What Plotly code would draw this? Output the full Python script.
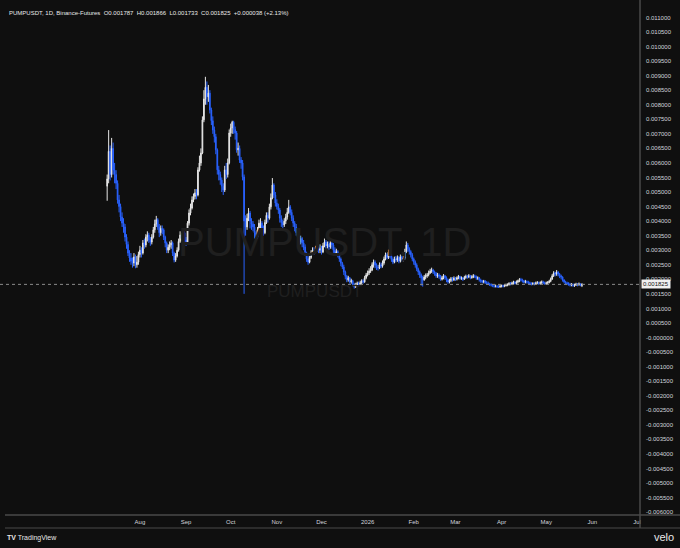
import plotly.graph_objects as go
import pandas as pd

# ---------------- data (prices in 1e-5 USDT, daily candles from 2025-07-10) ----------------
start_date = "2025-07-10"
first_open_e5 = 520

close_e5 = [
    # Jul 10-31
    545, 640, 560, 650, 575, 560, 530, 473, 450, 414, 393, 380, 345, 320, 290, 273, 262, 256, 277, 250, 259, 285,
    # Aug
    300, 290, 325, 318, 345, 352, 335, 328, 345, 370, 390, 405, 380, 360, 375, 370, 345, 325, 300, 310, 318, 325, 290, 266, 280, 300, 330, 352, 340, 360, 335,
    # Sep
    328, 393, 428, 445, 473, 485, 497, 490, 576, 600, 634, 748, 820, 860, 827, 840, 782, 745, 713, 690, 645, 576, 560, 541, 520, 507, 576, 560, 600, 703,
    # Oct
    720, 740, 715, 703, 645, 650, 610, 600, 552, 400, 380, 410, 428, 400, 390, 380, 360, 345, 370, 393, 393, 375, 360, 395, 420, 410, 449, 480, 524, 490, 462,
    # Nov
    450, 438, 410, 395, 387, 400, 414, 430, 449, 430, 410, 393, 380, 360, 345, 328, 340, 325, 311, 290, 270, 259, 275, 290, 300, 295, 300, 310, 300, 305,
    # Dec
    294, 315, 328, 315, 320, 311, 325, 318, 300, 290, 295, 285, 270, 255, 242, 225, 210, 198, 205, 191, 195, 182, 174, 180, 187, 183, 188, 195, 191, 205, 215,
    # Jan 2026
    222, 228, 232, 250, 259, 248, 240, 239, 250, 245, 256, 270, 284, 275, 294, 280, 268, 259, 270, 266, 275, 262, 277, 268, 273, 295, 318, 305, 295, 284, 270,
    # Feb
    260, 249, 235, 225, 215, 205, 198, 208, 212, 215, 222, 228, 232, 226, 220, 212, 215, 210, 200, 205, 212, 205, 198, 191, 196, 202, 198, 204,
    # Mar
    200, 205, 210, 203, 205, 200, 206, 210, 208, 212, 206, 208, 212, 210, 204, 205, 198, 194, 191, 194, 189, 187, 184, 182, 180, 178, 176, 177, 175, 174, 176,
    # Apr
    178, 176, 179, 180, 182, 186, 184, 187, 190, 186, 191, 195, 199, 198, 194, 190, 192, 191, 188, 185, 184, 186, 183, 187, 189, 186, 188, 191, 188, 186,
    # May 1-25
    187, 189, 193, 201, 212, 222, 218, 225, 218, 212, 208, 198, 191, 188, 185, 184, 180, 182, 179, 180, 183, 181, 184, 178.7, 182.5,
]

high_e5 = [
    560, 713, 660, 686, 670, 600, 575, 540, 490, 460, 430, 410, 390, 355, 330, 300, 290, 275, 290, 285, 280, 295,
    315, 310, 335, 340, 355, 365, 360, 345, 355, 380, 405, 418, 410, 390, 385, 385, 375, 350, 330, 320, 330, 335, 330, 295, 290, 310, 340, 365, 360, 370, 365,
    345, 400, 440, 460, 485, 495, 510, 510, 585, 625, 650, 760, 850, 896, 880, 868, 850, 790, 760, 725, 700, 650, 590, 570, 550, 530, 590, 600, 615, 715,
    735, 745, 745, 725, 710, 670, 660, 620, 610, 560, 420, 425, 445, 435, 410, 400, 390, 365, 380, 405, 410, 400, 385, 405, 430, 430, 460, 495, 548, 530, 500,
    475, 460, 445, 420, 405, 410, 425, 445, 473, 455, 440, 420, 400, 390, 365, 350, 350, 345, 335, 320, 295, 280, 285, 300, 310, 310, 315, 320, 315, 320,
    315, 325, 340, 335, 330, 330, 332, 335, 325, 310, 305, 300, 290, 275, 260, 250, 230, 215, 212, 208, 202, 198, 188, 188, 192, 192, 195, 200, 200, 212, 222,
    230, 238, 245, 258, 268, 265, 255, 250, 258, 258, 265, 278, 292, 290, 302, 298, 285, 275, 278, 280, 282, 280, 285, 282, 280, 305, 330, 325, 310, 300, 290,
    275, 265, 255, 240, 230, 220, 212, 215, 220, 222, 230, 236, 240, 236, 230, 225, 222, 220, 215, 212, 218, 215, 210, 202, 202, 208, 208, 210,
    208, 210, 215, 212, 210, 208, 212, 216, 215, 218, 215, 214, 218, 216, 213, 210, 208, 202, 198, 198, 197, 194, 192, 188, 186, 184, 182, 182, 180, 180, 181,
    182, 182, 184, 185, 186, 190, 190, 192, 195, 194, 196, 199, 204, 205, 202, 198, 198, 196, 195, 192, 190, 190, 190, 192, 194, 192, 193, 196, 195, 192,
    192, 194, 198, 206, 218, 228, 226, 232, 228, 222, 216, 210, 200, 195, 192, 190, 188, 187, 186, 185, 188, 187, 189, 186, 186.6,
]

low_e5 = [
    470, 530, 540, 550, 560, 530, 510, 460, 430, 400, 380, 360, 330, 305, 280, 260, 250, 240, 245, 238, 240, 250,
    275, 275, 285, 305, 310, 330, 325, 315, 320, 340, 360, 380, 370, 345, 350, 355, 335, 310, 290, 290, 300, 305, 280, 258, 260, 275, 295, 325, 330, 335, 325,
    315, 325, 385, 420, 440, 465, 475, 475, 485, 570, 590, 630, 740, 800, 800, 810, 770, 730, 700, 670, 630, 560, 540, 525, 500, 490, 500, 545, 550, 595,
    690, 700, 700, 680, 635, 625, 600, 580, 540, 150, 350, 370, 400, 375, 370, 365, 340, 335, 340, 365, 375, 365, 350, 355, 390, 395, 405, 440, 475, 480, 450,
    440, 425, 395, 380, 370, 380, 390, 405, 425, 420, 400, 380, 365, 350, 335, 318, 320, 310, 300, 280, 260, 250, 255, 270, 285, 285, 290, 295, 290, 290,
    285, 290, 310, 305, 305, 300, 305, 305, 290, 280, 280, 275, 260, 245, 235, 215, 200, 190, 192, 185, 185, 176, 168, 170, 175, 176, 180, 183, 185, 188, 200,
    210, 215, 222, 228, 240, 238, 232, 230, 235, 238, 240, 250, 265, 268, 270, 272, 260, 252, 255, 258, 260, 255, 258, 262, 262, 268, 290, 295, 285, 275, 262,
    250, 240, 228, 215, 205, 178, 175, 195, 200, 205, 210, 218, 222, 218, 212, 205, 205, 202, 195, 196, 200, 198, 190, 185, 186, 190, 192, 194,
    194, 196, 200, 198, 198, 194, 198, 202, 202, 204, 200, 202, 204, 204, 198, 198, 192, 188, 186, 186, 184, 182, 180, 177, 175, 173, 171, 172, 170, 170, 171,
    172, 172, 173, 175, 176, 178, 179, 180, 182, 182, 183, 186, 190, 192, 189, 186, 186, 185, 183, 180, 179, 180, 179, 181, 183, 181, 182, 184, 183, 181,
    181, 183, 186, 190, 198, 208, 210, 212, 210, 204, 200, 192, 186, 183, 180, 178, 175, 176, 174, 174, 177, 176, 178, 176, 173.3,
]

last_price = 0.001825
header_text = ("PUMPUSDT, 1D, Binance-Futures  O0.001787  H0.001866  L0.001733  "
               "C0.001825  +0.000038 (+2.13%)")

month_ticks = ["2025-08-01", "2025-09-01", "2025-10-01", "2025-11-01", "2025-12-01", "2026-01-01",
               "2026-02-01", "2026-03-01", "2026-04-01", "2026-05-01", "2026-06-01", "2026-07-01"]
month_labels = ["Aug", "Sep", "Oct", "Nov", "Dec", "2026", "Feb", "Mar", "Apr", "May", "Jun", "Jul"]

y_tick_labels = [
    "0.011000", "0.010500", "0.010000", "0.009500", "0.009000", "0.008500", "0.008000", "0.007500",
    "0.007000", "0.006500", "0.006000", "0.005500", "0.005000", "0.004500", "0.004000", "0.003500",
    "0.003000", "0.002500", "0.002000", "0.001500", "0.001000", "0.000500", "-0.000000", "-0.000500",
    "-0.001000", "-0.001500", "-0.002000", "-0.002500", "-0.003000", "-0.003500", "-0.004000",
    "-0.004500", "-0.005000", "-0.005500", "-0.006000",
]

assert len(close_e5) == len(high_e5) == len(low_e5)

# ---------------- build ----------------
unit = 1e-5
close = [v * unit for v in close_e5]
high = [v * unit for v in high_e5]
low = [v * unit for v in low_e5]
open_ = [first_open_e5 * unit] + close[:-1]
dates = pd.date_range(start_date, periods=len(close), freq="D")

BG = "#0f0f0f"
UP = "#e6e6e6"
DOWN = "#2962ff"
TXT = "#d1d4dc"
FONT = "Liberation Sans, Arial, sans-serif"

fig = go.Figure(go.Candlestick(
    x=dates, open=open_, high=high, low=low, close=close,
    increasing=dict(line=dict(color=UP, width=1), fillcolor=UP),
    decreasing=dict(line=dict(color=DOWN, width=1), fillcolor=DOWN),
    whiskerwidth=0, showlegend=False, hoverinfo="skip",
))

W, H = 680, 548
ml, mr, mt, mb = 0, 40, 0, 31
pw, ph = W - ml - mr, H - mt - mb

def px(xp):
    return (xp - ml) / pw

def py(yp):
    return 1 - (yp - mt) / ph

fig.update_layout(
    width=W, height=H,
    margin=dict(l=ml, r=mr, t=mt, b=mb),
    paper_bgcolor=BG, plot_bgcolor=BG,
    font=dict(family=FONT, color=TXT, size=6),
    xaxis=dict(
        range=["2025-04-29", "2026-07-03"], rangeslider=dict(visible=False),
        showgrid=False, zeroline=False, showline=False, ticks="",
        tickvals=month_ticks, ticktext=month_labels,
        tickfont=dict(size=6, color=TXT), ticklabelstandoff=0,
    ),
    yaxis=dict(
        side="right", range=[-0.00617, 0.0116],
        showgrid=False, zeroline=False, showline=False, ticks="",
        tickvals=[float(t) for t in y_tick_labels], ticktext=y_tick_labels,
        tickfont=dict(size=6, color=TXT), ticklabelstandoff=5,
    ),
    showlegend=False,
)

LINE = "#4a4a4a"
shapes = [
    # last price dotted line
    dict(type="line", xref="paper", yref="y", x0=0, x1=1, y0=last_price, y1=last_price,
         line=dict(color="#8a8a8a", width=1, dash="dot")),
    # pane separators
    dict(type="line", xref="paper", yref="paper", x0=1, x1=1, y0=py(528), y1=1,
         line=dict(color=LINE, width=1.5)),
    dict(type="line", xref="paper", yref="paper", x0=px(5), x1=px(680), y0=py(515), y1=py(515),
         line=dict(color=LINE, width=1.5)),
    dict(type="line", xref="paper", yref="paper", x0=px(5), x1=px(680), y0=py(528), y1=py(528),
         line=dict(color=LINE, width=1)),
]
fig.update_layout(shapes=shapes)

annotations = [
    # watermark
    dict(text="PUMPUSDT, 1D", xref="paper", yref="paper", x=px(324), y=py(242),
         showarrow=False, font=dict(size=40, color="#1f1f1f", family=FONT)),
    dict(text="PUMPUSDT", xref="paper", yref="paper", x=px(314), y=py(291),
         showarrow=False, font=dict(size=17, color="#1f1f1f", family=FONT)),
    # header
    dict(text=header_text, xref="paper", yref="paper", x=px(7), y=py(13), xanchor="left",
         yanchor="middle", showarrow=False, font=dict(size=6, color="#e8e8e8", family=FONT)),
    # last price tag
    dict(text="0.001825", xref="paper", yref="y", x=1, y=last_price, xanchor="left",
         yanchor="middle", showarrow=False, xshift=1, bgcolor="#f0f0f0", borderpad=1,
         font=dict(size=6, color="#111111", family=FONT)),
    # footer
    dict(text="<b>TV</b> TradingView", xref="paper", yref="paper", x=px(5), y=py(538),
         xanchor="left", yanchor="middle", showarrow=False,
         font=dict(size=7, color="#e8e8e8", family=FONT)),
    dict(text="velo", xref="paper", yref="paper", x=px(676), y=py(537),
         xanchor="right", yanchor="middle", showarrow=False,
         font=dict(size=11, color="#e8e8e8", family=FONT)),
]
fig.update_layout(annotations=annotations)

fig.write_html(
    "out.html",
    config={"displayModeBar": False},
    post_script="document.body.style.margin='0';document.body.style.background='#0f0f0f';",
)
